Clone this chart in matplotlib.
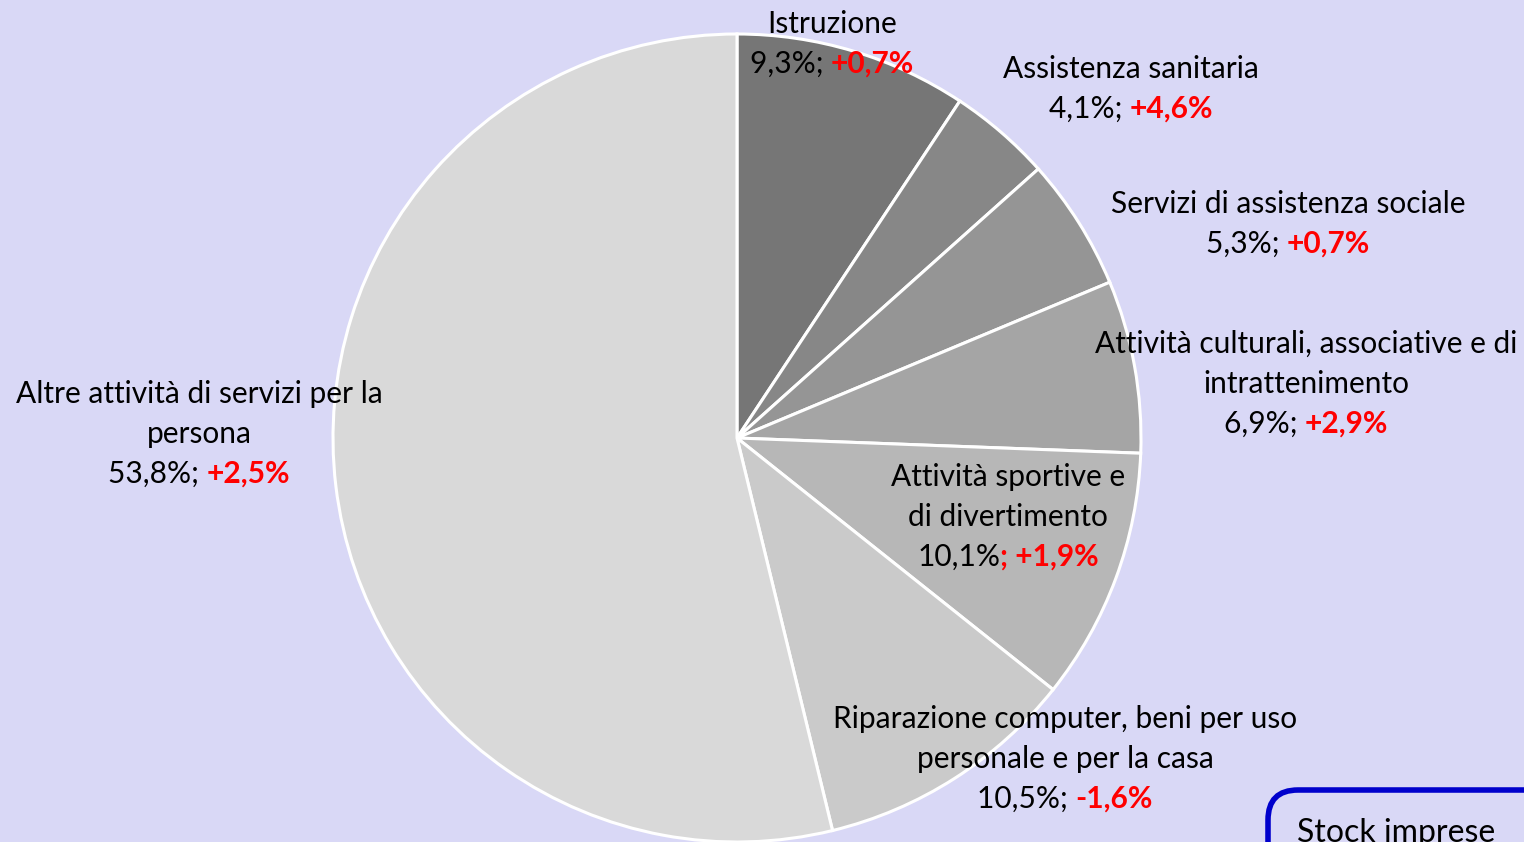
import matplotlib.pyplot as plt
from matplotlib.patches import FancyBboxPatch

plt.rcParams['font.family'] = ['Lato', 'DejaVu Sans']

categories = [
    ["Istruzione"],
    ["Assistenza sanitaria"],
    ["Servizi di assistenza sociale"],
    ["Attività culturali, associative e di", "intrattenimento"],
    ["Attività sportive e", "di divertimento"],
    ["Riparazione computer, beni per uso", "personale e per la casa"],
    ["Altre attività di servizi per la", "persona"],
]
shares = [9.3, 4.1, 5.3, 6.9, 10.1, 10.5, 53.8]
changes = ["+0,7%", "+4,6%", "+0,7%", "+2,9%", "+1,9%", "-1,6%", "+2,5%"]
colors = ["#767676", "#878787", "#959595", "#a5a5a5", "#b7b7b7", "#cacaca", "#d9d9d9"]

# label anchor (center x, first line y) in pixels from top-left
label_pos = [(832, 24), (1131, 69), (1288, 204), (1306, 344),
             (1008, 477), (1065, 719), (199, 394)]

W, H = 1524, 842
bg = "#d9d8f6"
fig = plt.figure(figsize=(W / 100, H / 100), dpi=100, facecolor=bg)
ax = fig.add_axes([0, 0, 1, 1])

ax.pie(shares, colors=colors, startangle=90, counterclock=False,
       center=(737, H - 438), radius=404, frame=True,
       wedgeprops=dict(edgecolor="white", linewidth=2.2))
ax.set_xlim(0, W)
ax.set_ylim(0, H)
ax.axis("off")

fs = 21.5
line_h = 40
renderer = fig.canvas.get_renderer()


def text_width(s, **kw):
    t = ax.text(0, 0, s, fontsize=fs, **kw)
    w = t.get_window_extent(renderer).width
    t.remove()
    return w


for lines, sh, ch, (cx, y0) in zip(categories, shares, changes, label_pos):
    for i, ln in enumerate(lines):
        ax.text(cx, H - (y0 + i * line_h), ln, fontsize=fs, ha="center", va="center")
    y = H - (y0 + len(lines) * line_h)
    black = f"{sh:.1f}%".replace(".", ",")
    if ch == "+1,9%":
        black_part, red_part = black, "; " + ch
    else:
        black_part, red_part = black + ";\u00a0", ch
    w1 = text_width(black_part)
    w2 = text_width(red_part, fontweight="bold")
    left = cx - (w1 + w2) / 2
    ax.text(left, y, black_part, fontsize=fs, va="center", ha="left")
    ax.text(left + w1, y, red_part, fontsize=fs, va="center", ha="left",
            color="#ff0000", fontweight="bold")

# partially visible info box in the lower right corner
box = FancyBboxPatch((1268, -60), 400, H - 790 + 60,
                     boxstyle="round,pad=0,rounding_size=30",
                     facecolor=bg, edgecolor="#0000cc", linewidth=4, clip_on=False)
ax.add_patch(box)
ax.text(1297, H - 818, "Stock imprese", fontsize=23, va="top", ha="left")

fig.savefig("out.png", dpi=100, facecolor=bg)
